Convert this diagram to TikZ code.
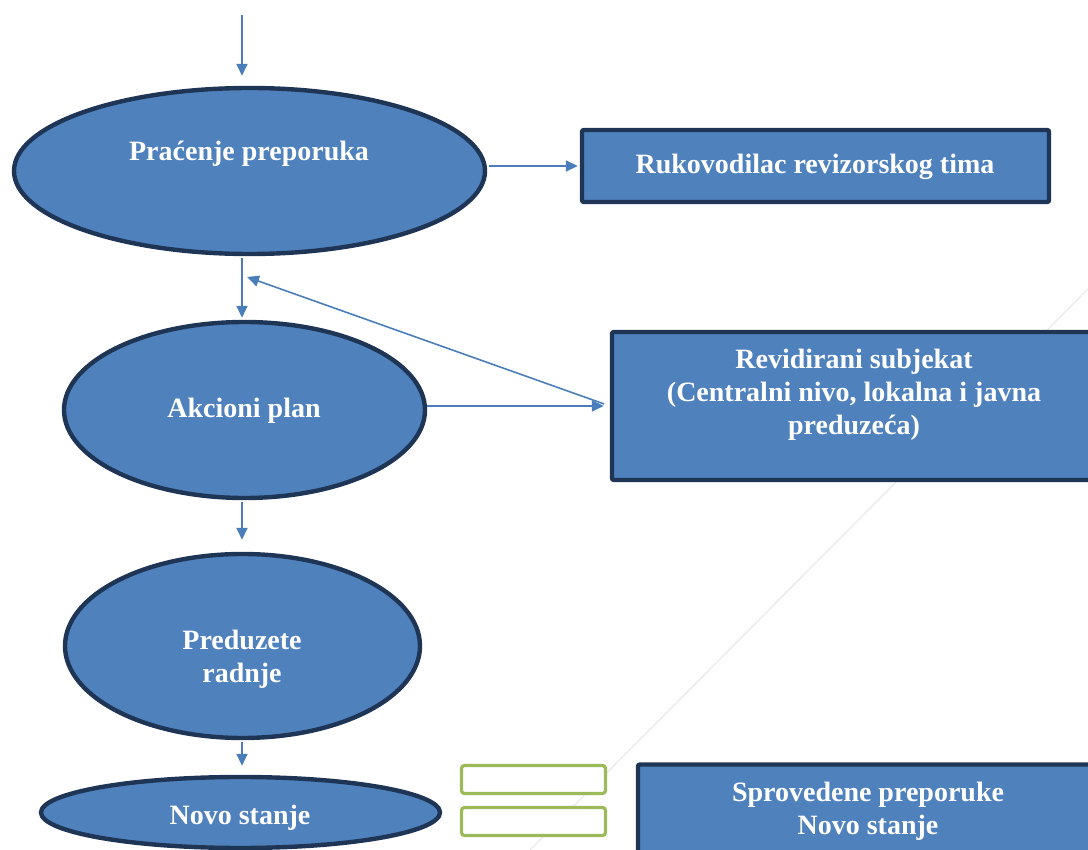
\documentclass[tikz,border=0pt]{standalone}
\usepackage{fontspec}
\setmainfont{Liberation Serif}
\usetikzlibrary{shapes.geometric,arrows.meta,positioning}

\definecolor{plava}{HTML}{4F81BD}
\definecolor{tamna}{HTML}{1F3556}
\definecolor{strel}{HTML}{4A7EBB}
\definecolor{zelena}{HTML}{9BBB59}

\begin{document}
\begin{tikzpicture}[x=0.5pt, y=-0.5pt,
        oval/.style={ellipse, draw=tamna, fill=plava, line width=2.2pt,
            inner sep=0pt, text=white, align=center,
            font=\fontsize{14}{16.5}\selectfont\bfseries},
        blok/.style={rectangle, draw=tamna, fill=plava, line width=2.2pt,
            rounded corners=1pt, inner sep=0pt, text=white, align=center,
            font=\fontsize{14}{16.5}\selectfont\bfseries},
        natpis/.style={text=white, align=center, inner sep=0pt,
            font=\fontsize{14}{16.5}\selectfont\bfseries},
        okvir/.style={draw=zelena, fill=white, line width=1.6pt,
            rounded corners=1.5pt, minimum width=72pt, minimum height=14pt},
        veza/.style={draw=strel, line width=0.8pt,
            -{Triangle[width=5.5pt,length=6pt]}}]

    \useasboundingbox (0,0) rectangle (1088,850);
    \draw[gray!20, line width=0.5pt] (1088,289) -- (530,850);

    % lijeva kolona
    \node[oval, minimum width=235.5pt, minimum height=83pt] (pracenje) at (249.5,171) {};
    \node[natpis] (pracenje-t) at (249,154) {Praćenje preporuka};
    \node[oval, minimum width=180.5pt, minimum height=88pt] (akcioni) at (244.5,410) {};
    \node[natpis] (akcioni-t) at (244,411) {Akcioni plan};
    \node[oval, minimum width=177.5pt, minimum height=92pt] (preduzete) at (242.5,646) {};
    \node[natpis] (preduzete-t) at (242,659) {Preduzete\\radnje};
    \node[oval, minimum width=199.5pt, minimum height=35.5pt] (novo) at (240.5,812.5) {};
    \node[natpis] (novo-t) at (240,818) {Novo stanje};

    % desna kolona
    \node[blok, minimum width=233.5pt, minimum height=36pt] (rukovodilac) at (815.5,166) {};
    \node[natpis] (rukovodilac-t) at (815,167) {Rukovodilac revizorskog tima};
    \node[blok, minimum width=242pt, minimum height=74pt] (revidirani) at (854,406) {};
    \node[natpis] (revidirani-t) at (854,395) {Revidirani subjekat\\(Centralni nivo, lokalna i javna\\preduzeća)};
    \node[blok, minimum width=230pt, minimum height=67.5pt] (sprovedene) at (868,832) {};
    \node[natpis] (sprovedene-t) at (868,811) {Sprovedene preporuke\\Novo stanje};

    \node[okvir] (okvir1) at (533.5,779.5) {};
    \node[okvir] (okvir2) at (533.5,821.5) {};

    % strelice
    \coordinate (ulaz) at (242,15);
    \coordinate (povrat) at (247,277);
    \draw[veza, shorten >=5pt] (ulaz) -- (pracenje.north -| ulaz);
    \draw[veza, shorten <=1pt, shorten >=1pt] (rukovodilac.west -| pracenje.east) -- (rukovodilac.west);
    \draw[veza, shorten <=1pt, shorten >=1pt] (pracenje.south -| ulaz) -- (akcioni.north -| ulaz);
    \draw[veza, shorten >=3pt] (revidirani.west -| akcioni.east) -- (revidirani.west);
    \draw[veza, shorten <=3pt] (revidirani.west) -- (povrat);
    \draw[veza, shorten <=1pt, shorten >=6pt] (akcioni.south -| ulaz) -- (preduzete.north -| ulaz);
    \draw[veza, shorten <=1pt, shorten >=4.5pt] (preduzete.south -| ulaz) -- (novo.north -| ulaz);
\end{tikzpicture}
\end{document}
